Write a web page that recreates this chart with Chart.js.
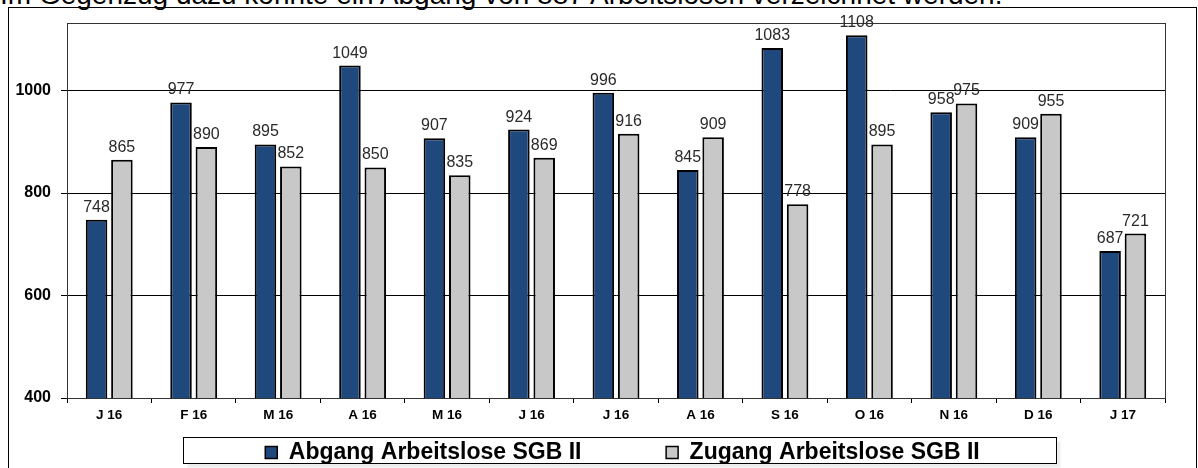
<!DOCTYPE html>
<html>
<head>
<meta charset="utf-8">
<script src="https://cdn.jsdelivr.net/npm/chart.js@4/dist/chart.umd.min.js"></script>
<style>
  html, body { margin: 0; padding: 0; background: #fff; overflow: hidden; }
  #wrap { position: relative; width: 1198px; height: 468px; }
  #intro {
    position: absolute; left: 0; top: -21px; white-space: nowrap;
    font: 28px "Liberation Sans", Arial, sans-serif; color: #000;
  }
  #chart { position: absolute; left: 0; top: 0; }
</style>
</head>
<body>
<div id="wrap">
  <div id="intro">Im Gegenzug dazu konnte ein Abgang von 887 Arbeitslosen verzeichnet werden.</div>
  <canvas id="chart" width="1198" height="468"></canvas>
</div>
<script>
const months = ['J 16', 'F 16', 'M 16', 'A 16', 'M 16', 'J 16', 'J 16', 'A 16', 'S 16', 'O 16', 'N 16', 'D 16', 'J 17'];
const abgang = [748, 977, 895, 1049, 907, 924, 996, 845, 1083, 1108, 958, 909, 687];
const zugang = [865, 890, 852, 850, 835, 869, 916, 909, 778, 895, 975, 955, 721];
const yTicks = [400, 600, 800, 1000];

const fontName = '"Liberation Sans", Arial, sans-serif';
const legendShift = 36;

function legendBox(chart) {
  const lg = chart.legend;
  const cx = (lg.left + lg.right) / 2;
  const x0 = Math.round(cx - 440) + 0.5;
  const y0 = Math.round(lg.top + 4) + 0.5;
  return { x0: x0, x1: x0 + 873, y0: y0, y1: y0 + 26 };
}

// frame around the whole chart, plot border, legend box, value labels
const framePlugin = {
  id: 'frame',
  afterLayout(chart) {
    // legend in the original sits a bit right of centre
    const lg = chart.legend;
    lg.left += legendShift;
    lg.right += legendShift;
  },
  beforeDraw(chart) {
    const ctx = chart.ctx;
    ctx.save();
    ctx.strokeStyle = '#000';
    ctx.lineWidth = 1;
    ctx.strokeRect(8.5, 7.5, 1188, 470);
    const b = legendBox(chart);
    ctx.fillStyle = 'rgba(0,0,0,0.07)';
    ctx.fillRect(b.x0 + 4, b.y0 + 4, b.x1 - b.x0, b.y1 - b.y0);
    ctx.fillStyle = '#fff';
    ctx.fillRect(b.x0, b.y0, b.x1 - b.x0, b.y1 - b.y0);
    ctx.strokeStyle = '#000';
    ctx.strokeRect(b.x0, b.y0, b.x1 - b.x0, b.y1 - b.y0);
    ctx.restore();
  },
  afterDraw(chart) {
    const ctx = chart.ctx;
    const a = chart.chartArea;
    ctx.save();
    ctx.strokeStyle = '#333';
    ctx.lineWidth = 1;
    ctx.strokeRect(Math.round(a.left) + 0.5, Math.round(a.top) + 0.5,
      Math.round(a.right - a.left), Math.round(a.bottom - a.top));

    ctx.font = '16px ' + fontName;
    ctx.fillStyle = '#2a2a2a';
    ctx.textAlign = 'center';
    ctx.textBaseline = 'alphabetic';
    chart.data.datasets.forEach((ds, i) => {
      chart.getDatasetMeta(i).data.forEach((bar, j) => {
        ctx.fillText(ds.data[j], bar.x, bar.y - 8);
      });
    });
    ctx.restore();
  }
};

new Chart(document.getElementById('chart'), {
  type: 'bar',
  data: {
    labels: months,
    datasets: [
      {
        label: 'Abgang Arbeitslose SGB II',
        data: abgang,
        backgroundColor: '#1F497D',
        borderColor: '#000',
        borderWidth: 2,
        categoryPercentage: 0.6,
        barPercentage: 0.85
      },
      {
        label: 'Zugang Arbeitslose SGB II',
        data: zugang,
        backgroundColor: '#C8C8C8',
        borderColor: '#000',
        borderWidth: 2,
        categoryPercentage: 0.6,
        barPercentage: 0.85
      }
    ]
  },
  options: {
    responsive: false,
    animation: false,
    layout: { padding: { left: 8, top: 23, right: 33, bottom: -6 } },
    plugins: {
      tooltip: { enabled: false },
      legend: {
        position: 'bottom',
        labels: {
          color: '#000',
          font: { family: fontName, size: 23, weight: 'bold' },
          boxWidth: 12,
          boxHeight: 12,
          padding: 8,
          generateLabels(chart) {
            const items = Chart.defaults.plugins.legend.labels.generateLabels(chart);
            items[0].text += '\u00a0'.repeat(12);
            items.forEach(it => { it.lineWidth = 1.5; });
            return items;
          }
        }
      }
    },
    scales: {
      x: {
        grid: { drawOnChartArea: false, color: '#000', tickLength: 5, offset: true },
        border: { color: '#000' },
        ticks: { color: '#000', font: { family: fontName, size: 13.5, weight: 'bold' }, padding: 4 },
        afterFit(scale) { scale.height = 35; }
      },
      y: {
        min: 400,
        max: 1132,
        afterBuildTicks(scale) { scale.ticks = yTicks.map(v => ({ value: v })); },
        grid: { color: '#000', tickLength: 6 },
        border: { color: '#000' },
        ticks: {
          color: '#000',
          font: { family: fontName, size: 16, weight: 'bold' },
          padding: 10,
          callback: v => String(v)
        },
        afterFit(scale) { scale.width = 59; }
      }
    }
  },
  plugins: [framePlugin]
});
</script>
</body>
</html>
